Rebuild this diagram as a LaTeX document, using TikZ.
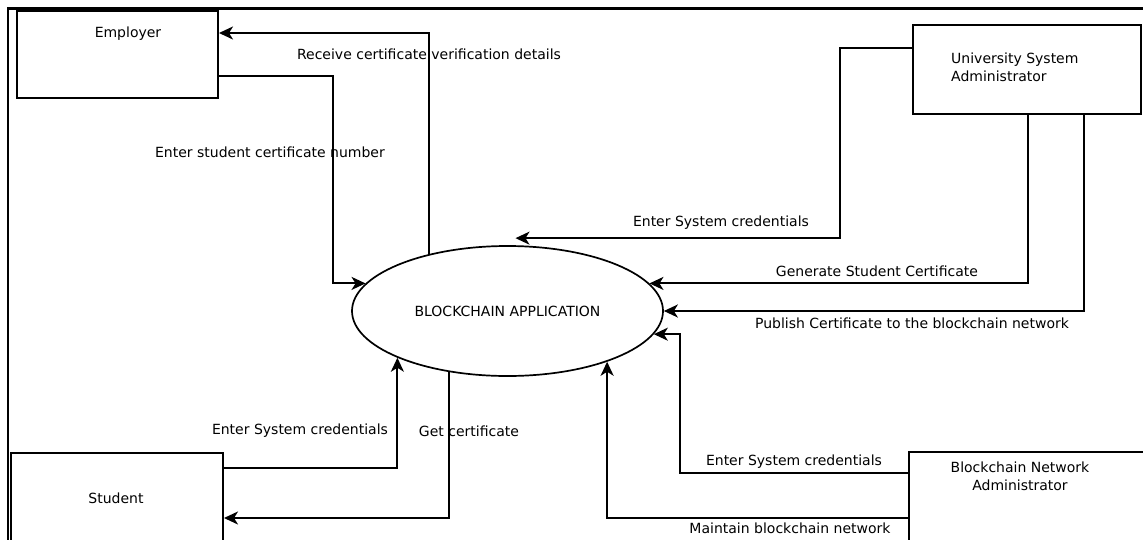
\documentclass[tikz,border=0pt]{standalone}
\usepackage{fontspec}
\setmainfont{DejaVu Sans}
\usetikzlibrary{arrows.meta,shapes.geometric}
\begin{document}
\begin{tikzpicture}[x=1pt,y=-1pt,
  font=\fontsize{14}{18}\selectfont,
  entity/.style={draw, line width=2pt, rectangle, inner sep=0pt, anchor=north west},
  process/.style={draw, line width=1.7pt, ellipse, inner sep=0pt,
    minimum width=311pt, minimum height=130pt},
  flow/.style={line width=2pt, -{Stealth[length=14pt,width=13pt,inset=4pt]}},
  flowlabel/.style={inner sep=0pt},
  boxtext/.style={inner sep=0pt, align=center},
]
\useasboundingbox (0,0) rectangle (1143,539);
\begin{scope}
\clip (0,0) rectangle (1143,539);

% outer frame (top and left edges)
\draw[line width=2.6pt] (1150,8.5) -- (8,8.5) -- (8,560);

% external entities
\node[entity, minimum width=201pt, minimum height=87pt] (emp) at (16,10) {};
\node[boxtext] (emp-t) at (128,34) {Employer};

\node[entity, minimum width=228pt, minimum height=89pt] (usa) at (912,24) {};
\node[boxtext, align=left, anchor=west] (usa-t) at (951,67) {University System\\Administrator};

\node[entity, minimum width=260pt, minimum height=120pt] (bna) at (908,451) {};
\node[boxtext] (bna-t) at (1020,476) {Blockchain Network\\Administrator};

\node[entity, minimum width=212pt, minimum height=110pt] (stu) at (10,452) {};
\node[boxtext] (stu-t) at (116,498) {Student};

% central process
\node[process] (e) at (507.5,311) {BLOCKCHAIN APPLICATION};

% data flows: employer
\draw[flow] (e.144) |- ([yshift=21.5pt]emp.east);
\draw[flow] ([yshift=-21.5pt]emp.east) -- ++(114,0) |- (e.169);

% data flows: university system administrator
\coordinate (cred-tip) at ([xshift=8pt,yshift=7pt]e.north);
\draw[flow] ([yshift=21.5pt]usa.west) -- ++(-72,0) |- (cred-tip);
\draw[flow] ([xshift=1pt]usa.south) |- (e.11);
\draw[flow] ([xshift=57pt]usa.south) |- (e.east);

% data flows: blockchain network administrator
\draw[flow] ([yshift=-22pt]bna.north west) -- ++(-228,0) |- (e.-9);
\draw[flow] ([yshift=-67pt]bna.north west) -| (e.-27);

% data flows: student
\draw[flow] ([yshift=-16pt]stu.north east) -| (e.-157);
\draw[flow] (e.226) |- ([yshift=-66pt]stu.north east);

% flow labels
\node[flowlabel] (l-recv) at (429,54) {Receive certificate verification details};
\node[flowlabel] (l-num) at (270,152) {Enter student certificate number};
\node[flowlabel] (l-ucred) at (721,223) {Enter System credentials};
\node[flowlabel] (l-gen) at (877,271) {Generate Student Certificate};
\node[flowlabel] (l-pub) at (912,323) {Publish Certificate to the blockchain network};
\node[flowlabel] (l-bcred) at (794,462) {Enter System credentials};
\node[flowlabel] (l-maint) at (790,528) {Maintain blockchain network};
\node[flowlabel] (l-scred) at (300,431) {Enter System credentials};
\node[flowlabel] (l-get) at (469,431) {Get certificate};
\end{scope}
\end{tikzpicture}
\end{document}
